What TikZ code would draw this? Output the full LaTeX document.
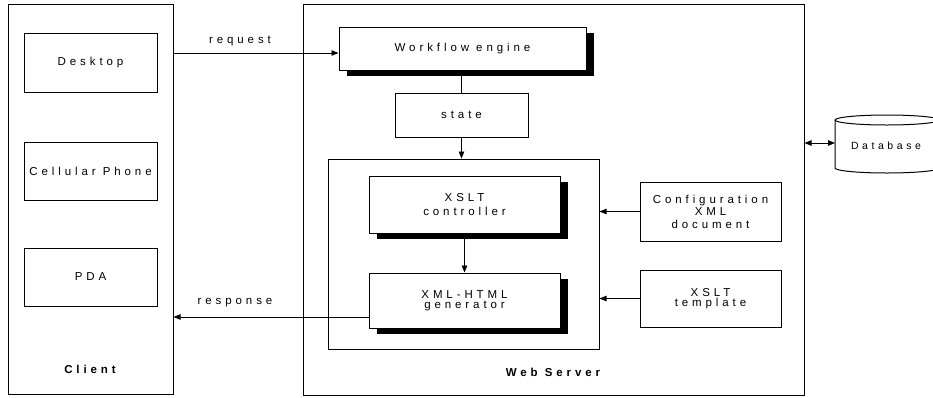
\documentclass[tikz,border=0pt]{standalone}
\usepackage{fontspec}
\setmainfont{Liberation Sans}[LetterSpace=34]
\usetikzlibrary{arrows.meta,shadows}
\begin{document}
\begin{tikzpicture}[x=1pt,y=-1pt,
  every node/.style={font=\fontsize{11.5}{13}\selectfont},
  frame/.style={draw,line width=1pt,inner sep=0pt},
  box/.style={frame,fill=white,align=center},
  sbox/.style={box,drop shadow={shadow xshift=8pt,shadow yshift=-6pt,fill=black,opacity=1}},
  arr/.style={line width=0.9pt,-{Triangle[length=7pt,width=5.5pt]}},
  lbl/.style={inner sep=0pt},
  title/.style={inner sep=0pt,font=\fontsize{11.5}{13}\selectfont\bfseries}]
\useasboundingbox (0,0) rectangle (933,397);
% containers
\node[frame,minimum width=165,minimum height=390] (client) at (90.5,199) {};
\node[frame,minimum width=501,minimum height=391] (web) at (553.5,199.5) {};
% client devices
\node[box,minimum width=133,minimum height=59] (desk) at (90.5,62.5) {Desktop};
\node[box,minimum width=133,minimum height=58] (cell) at (90.5,171) {Cellular Phone};
\node[box,minimum width=133,minimum height=58] (pda) at (90.5,277) {PDA};
\node[title] (clientlbl) at (90,369) {Client};
% web server
\node[sbox,minimum width=247,minimum height=43] (wf) at (462.5,48.5) {Workflow engine};
\node[box,minimum width=133,minimum height=44] (state) at (461.5,115) {state};
\node[frame,minimum width=271,minimum height=190] (inner) at (463.5,254) {};
\node[sbox,minimum width=191,minimum height=57] (ctrl) at (464.5,204.5) {XSLT\\[1pt]controller};
\node[sbox,minimum width=191,minimum height=55] (gen) at (464.5,300.5) {XML-HTML\\[-3pt]generator};
\node[box,minimum width=141,minimum height=59,font=\fontsize{11.5}{12.5}\selectfont] (conf) at (710.5,211.5) {Configuration\\XML\\document};
\node[box,minimum width=141,minimum height=57] (tmpl) at (710.5,298.5) {XSLT\\[-3pt]template};
\node[title] (weblbl) at (553,372) {Web Server};
% database
\draw[line width=1pt,fill=white] (835,120) -- (835,168) arc[start angle=180,end angle=0,x radius=52,y radius=5] -- (939,120);
\draw[line width=1pt] (887,120) ellipse[x radius=52,y radius=5];
\node[lbl,font=\fontsize{10.5}{12}\selectfont] (db) at (886,146) {Database};
\coordinate (dbw) at (835,143);
% connectors
\coordinate (ry) at (0,53);
\coordinate (sy) at (0,317);
\coordinate (dy) at (0,143);
\draw[arr] (client.east |- ry) -- (wf.west |- ry);
\node[lbl] (reqlbl) at (240,41) {request};
\draw[line width=1pt] (wf.south -| state.north) -- (state.north);
\draw[arr] (state.south) -- (state.south |- inner.north);
\draw[arr] (ctrl.south) -- (gen.north);
\draw[arr] (conf.west) -- (conf.west -| inner.east);
\draw[arr] (tmpl.west) -- (tmpl.west -| inner.east);
\draw[arr] (gen.west |- sy) -- (client.east |- sy);
\node[lbl] (resplbl) at (235,303) {response};
\draw[line width=0.9pt,{Triangle[length=7pt,width=5.5pt]}-{Triangle[length=7pt,width=5.5pt]}] (web.east |- dy) -- (dbw);
\end{tikzpicture}
\end{document}
